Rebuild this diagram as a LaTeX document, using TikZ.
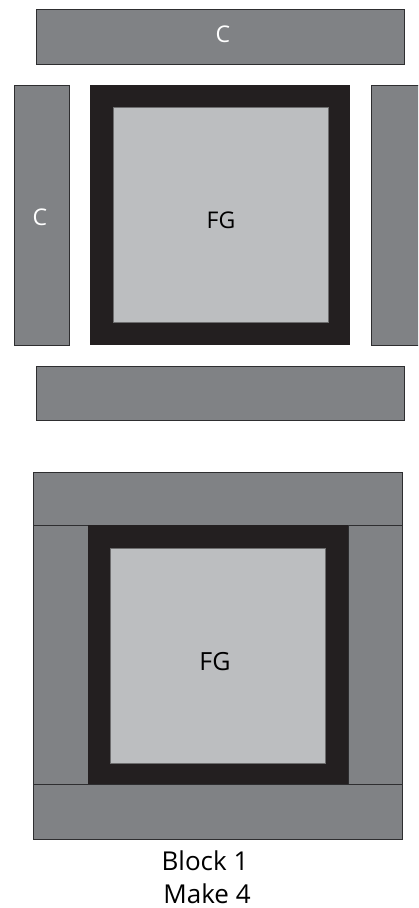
\documentclass[tikz,border=0pt]{standalone}
\usepackage{fontspec}
\setmainfont{Open Sans}
\definecolor{cgray}{HTML}{808285}
\definecolor{fgblack}{HTML}{231F20}
\definecolor{fglight}{HTML}{BCBEC0}
\definecolor{edge}{HTML}{2E2E30}
\begin{document}
\begin{tikzpicture}[x=1pt,y=-1pt,
  cbar/.style={fill=cgray,draw=edge,line width=0.9pt},
  frame/.style={fill=fgblack,draw=none},
  inner/.style={fill=fglight,draw=edge!70,line width=0.5pt},
  lbl/.style={font=\fontsize{23}{26}\selectfont},
  wlbl/.style={lbl,text=white},
  caplbl/.style={font=\fontsize{26}{30}\selectfont,anchor=base,inner sep=0pt}]
\useasboundingbox (0,0) rectangle (418,908);
\begin{scope}
\clip (0,0) rectangle (418,908);
% exploded view
\node[cbar,minimum width=368pt,minimum height=55pt,inner sep=0pt,anchor=north west] (ctop) at (36,9) {};
\node[cbar,minimum width=55pt,minimum height=260pt,inner sep=0pt,anchor=north west] (cleft) at (14,85) {};
\node[cbar,minimum width=60pt,minimum height=260pt,inner sep=0pt,anchor=north west] (cright) at (371,85) {};
\node[cbar,minimum width=368pt,minimum height=54pt,inner sep=0pt,anchor=north west] (cbot) at (36,366) {};
\node[frame,minimum width=260pt,minimum height=260pt,inner sep=0pt,anchor=north west] (fr1) at (90,85) {};
\node[inner,minimum width=215pt,minimum height=215pt,inner sep=0pt,anchor=north west] (fg1) at (113,107) {};
% assembled block
\node[cbar,minimum width=55pt,minimum height=259pt,inner sep=0pt,anchor=north west] (bl) at (33,525) {};
\node[cbar,minimum width=54pt,minimum height=259pt,inner sep=0pt,anchor=north west] (br) at (348,525) {};
\node[cbar,minimum width=369pt,minimum height=53pt,inner sep=0pt,anchor=north west] (bt) at (33,472) {};
\node[cbar,minimum width=369pt,minimum height=55pt,inner sep=0pt,anchor=north west] (bb) at (33,784) {};
\node[frame,minimum width=260pt,minimum height=259pt,inner sep=0pt,anchor=north west] (fr2) at (88,525) {};
\node[inner,minimum width=215pt,minimum height=215pt,inner sep=0pt,anchor=north west] (fg2) at (110,548) {};
\end{scope}
\node[wlbl] (lc1) at (223,34) {C};
\node[wlbl] (lc2) at (40,217) {C};
\node[lbl] (lfg1) at (221,220) {FG};
\node[font=\fontsize{25}{28}\selectfont] (lfg2) at (215,662) {FG};
\node[caplbl] (cap1) at (205,870) {Block 1};
\node[caplbl] (cap2) at (207,903) {Make 4};
\end{tikzpicture}
\end{document}
